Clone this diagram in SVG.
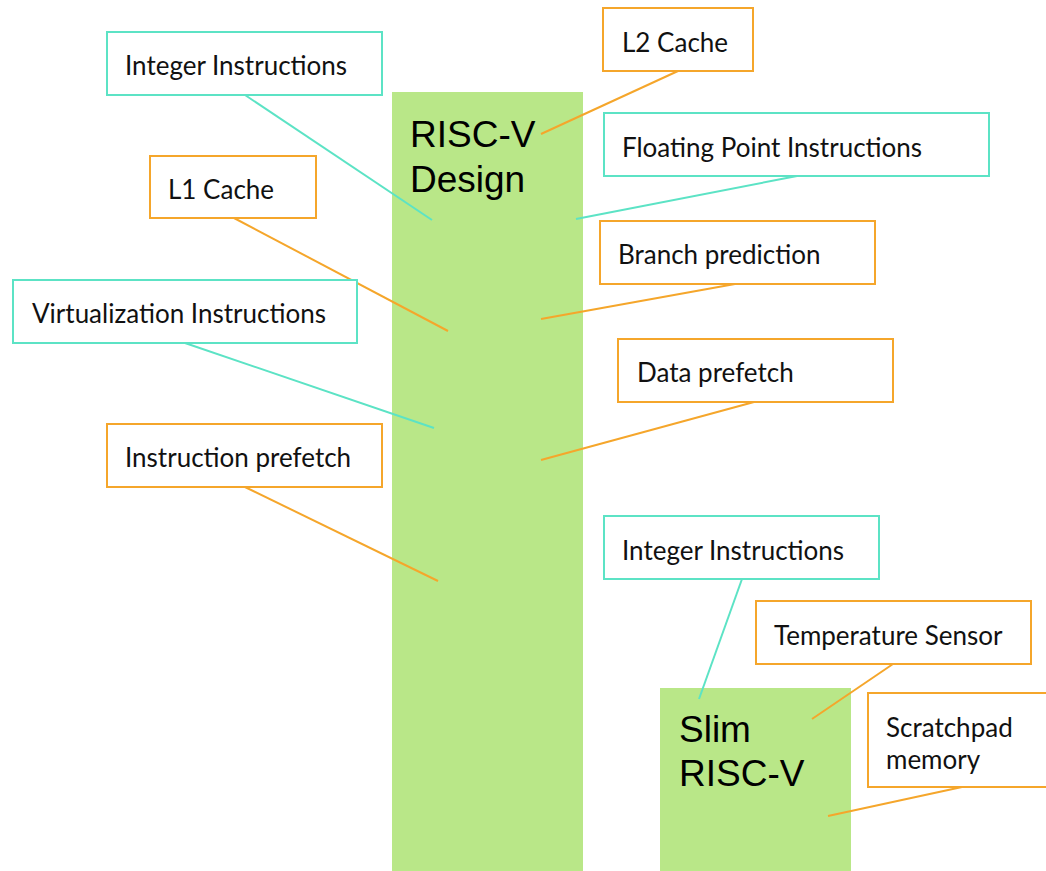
<svg xmlns="http://www.w3.org/2000/svg" width="1046" height="871" viewBox="0 0 1046 871">
  <style>
    .block { fill: #b9e788; }
    .title { font-family: "Liberation Sans", Arial, sans-serif; font-size: 37px; fill: #000; }
    .box { fill: #fff; stroke-width: 2; }
    .teal { stroke: #5ce3c5; }
    .orange { stroke: #f5a62b; }
    .label { font-family: Lato, "Noto Sans", sans-serif; font-size: 26px; fill: #111; }
    .link { fill: none; stroke-width: 2; }
  </style>

  <!-- main blocks -->
  <g id="risc-v-design">
    <rect class="block" x="392" y="92" width="191" height="779"/>
    <text class="title" x="410" y="147">RISC-V</text>
    <text class="title" x="410" y="192">Design</text>
  </g>
  <g id="slim-risc-v">
    <rect class="block" x="660" y="688" width="191" height="183"/>
    <text class="title" x="679" y="742">Slim</text>
    <text class="title" x="679" y="786">RISC-V</text>
  </g>

  <!-- leader lines from labels into the blocks -->
  <g id="connectors">
    <line class="link teal" x1="245" y1="95" x2="432" y2="220"/>
    <line class="link orange" x1="678" y1="71" x2="541" y2="134"/>
    <line class="link teal" x1="797" y1="176" x2="576" y2="219"/>
    <line class="link orange" x1="234" y1="218" x2="448" y2="331"/>
    <line class="link orange" x1="735" y1="284" x2="541" y2="319"/>
    <line class="link teal" x1="185" y1="343" x2="434" y2="428"/>
    <line class="link orange" x1="754" y1="402" x2="541" y2="460"/>
    <line class="link orange" x1="245" y1="487" x2="438" y2="581"/>
    <line class="link teal" x1="742" y1="579" x2="699" y2="699"/>
    <line class="link orange" x1="893" y1="664" x2="812" y2="719"/>
    <line class="link orange" x1="962" y1="787" x2="828" y2="816"/>
  </g>

  <!-- labels -->
  <g id="integer-instructions">
    <rect class="box teal" x="107" y="32" width="275" height="63"/>
    <text class="label" x="125" y="75">Integer Instructions</text>
  </g>
  <g id="l2-cache">
    <rect class="box orange" x="603" y="8" width="150" height="63"/>
    <text class="label" x="622" y="52">L2 Cache</text>
  </g>
  <g id="floating-point-instructions">
    <rect class="box teal" x="604" y="113" width="385" height="63"/>
    <text class="label" x="622" y="157">Floating Point Instructions</text>
  </g>
  <g id="l1-cache">
    <rect class="box orange" x="150" y="156" width="166" height="62"/>
    <text class="label" x="168" y="199">L1 Cache</text>
  </g>
  <g id="branch-prediction">
    <rect class="box orange" x="600" y="221" width="275" height="63"/>
    <text class="label" x="618" y="264">Branch prediction</text>
  </g>
  <g id="virtualization-instructions">
    <rect class="box teal" x="13" y="280" width="344" height="63"/>
    <text class="label" x="32" y="323">Virtualization Instructions</text>
  </g>
  <g id="data-prefetch">
    <rect class="box orange" x="618" y="339" width="275" height="63"/>
    <text class="label" x="637" y="382">Data prefetch</text>
  </g>
  <g id="instruction-prefetch">
    <rect class="box orange" x="107" y="424" width="275" height="63"/>
    <text class="label" x="125" y="467">Instruction prefetch</text>
  </g>
  <g id="slim-integer-instructions">
    <rect class="box teal" x="604" y="516" width="275" height="63"/>
    <text class="label" x="622" y="560">Integer Instructions</text>
  </g>
  <g id="temperature-sensor">
    <rect class="box orange" x="756" y="601" width="275" height="63"/>
    <text class="label" x="774" y="645">Temperature Sensor</text>
  </g>
  <g id="scratchpad-memory">
    <rect class="box orange" x="868" y="693" width="190" height="94"/>
    <text class="label" x="886" y="737">Scratchpad</text>
    <text class="label" x="886" y="769">memory</text>
  </g>
</svg>
